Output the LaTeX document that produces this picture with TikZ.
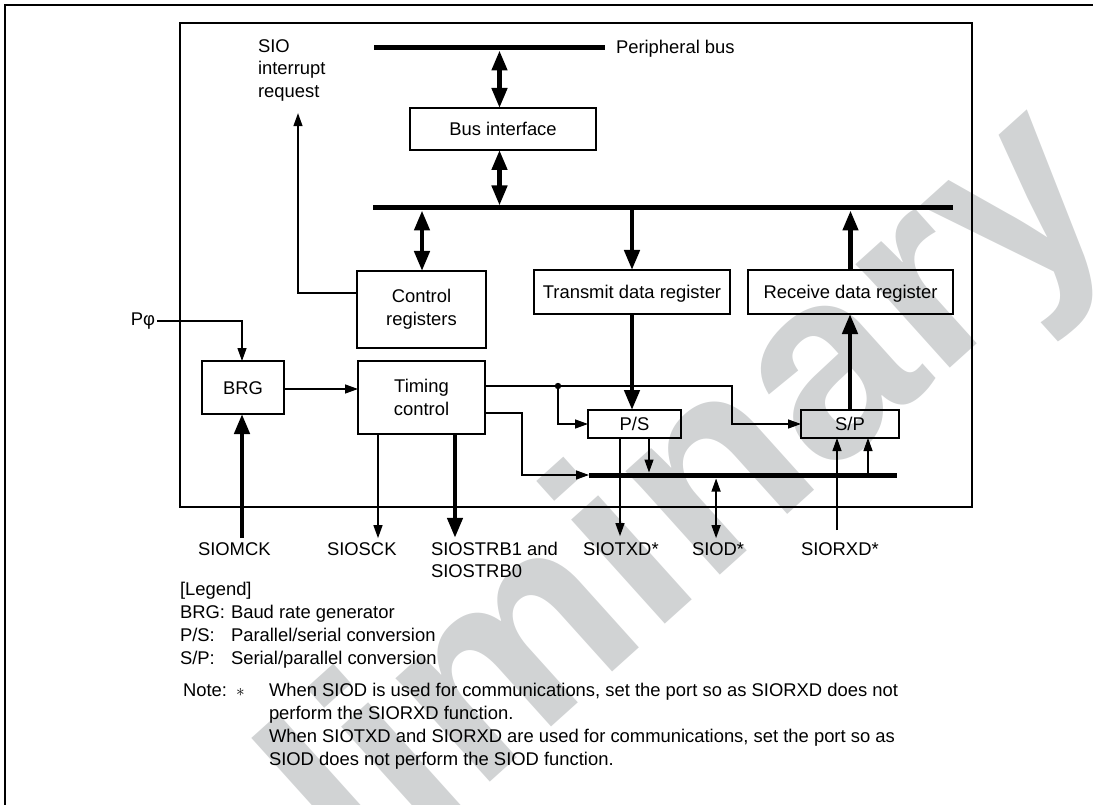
\documentclass[tikz,border=0pt]{standalone}
\usepackage{fontspec}
\setmainfont{Liberation Sans}
\usetikzlibrary{arrows.meta,calc}
\definecolor{wm}{RGB}{209,211,212}
\newcommand\dgfont{\fontsize{18.4}{22.8}\selectfont}
\begin{document}
\begin{tikzpicture}[x=1pt,y=-1pt,
  every node/.style={inner sep=0pt,outer sep=0pt,font=\dgfont},
  blk/.style={draw,line width=2.6pt,align=center},
  one/.style={text height=13.2pt,text depth=0pt},
  wire/.style={line width=1.3pt},
  wa/.style={wire,-{Triangle[length=13pt,width=9pt]}},
  wdbl/.style={wire,{Triangle[length=13pt,width=9pt]}-{Triangle[length=13pt,width=9pt]}},
  fat/.style={line width=4.5pt},
  fa/.style={fat,-{Triangle[length=20pt,width=15pt]}},
  fdbl/.style={fat,{Triangle[length=20pt,width=15pt]}-{Triangle[length=20pt,width=15pt]}},
  bus/.style={line width=5pt}]
\useasboundingbox (0,0) rectangle (1093,805);
% watermark
\node[rotate=42,text=wm,font=\fontsize{265}{265}\selectfont\bfseries] (wmk) at (540,645) {Preliminary};
% outer frame (cut off at right and bottom)
\draw[line width=2pt] (5,805) -- (5,5) -- (1093,5);
% chip frame
\node[draw,line width=2.6pt,minimum width=792pt,minimum height=484pt] (chip) at (576,265) {};
% buses
\coordinate (pbusL) at (374,48); \coordinate (pbusR) at (605,48);
\coordinate (ibusL) at (373,208); \coordinate (ibusR) at (953,208);
\coordinate (lbusL) at (589,475); \coordinate (lbusR) at (897,475);
\draw[bus] (pbusL) -- (pbusR);
\draw[bus] (ibusL) -- (ibusR);
\draw[bus] (lbusL) -- (lbusR);
% blocks
\node[blk,one,minimum width=186pt,minimum height=42pt] (bif) at (503,129) {Bus interface};
\node[blk,minimum width=129pt,minimum height=77pt] (ctrl) at (421.5,309.5) {Control\\registers};
\node[blk,one,minimum width=196pt,minimum height=44pt] (tdr) at (632,292) {Transmit data register};
\node[blk,one,minimum width=205pt,minimum height=44pt] (rdr) at (850.5,292) {Receive data register};
\node[blk,one,minimum width=82pt,minimum height=53pt] (brg) at (243,387.5) {BRG};
\node[blk,minimum width=127pt,minimum height=73pt] (tim) at (421.5,397.5) {Timing\\control};
\node[blk,one,minimum width=93pt,minimum height=28pt] (ps) at (634.5,424) {P/S};
\node[blk,one,minimum width=98pt,minimum height=28pt] (sp) at (850,424) {S/P};
% labels
\node[anchor=west] (pbuslbl) at (616,49) {Peripheral bus};
\node[anchor=north west,align=left,font=\fontsize{18.4}{22.5}\selectfont] (irq) at (258,39.5) {SIO\\interrupt\\request};
\node[anchor=east] (pphi) at (155,321) {Pφ};
\node[anchor=base west] (mck) at (198,555) {SIOMCK};
\node[anchor=base west] (sck) at (327,555) {SIOSCK};
\node[anchor=north west,align=left] (strb) at (431,541.8) {SIOSTRB1 and\\SIOSTRB0};
\node[anchor=base west] (txd) at (583,555) {SIOTXD*};
\node[anchor=base west] (siod) at (692,555) {SIOD*};
\node[anchor=base west] (rxd) at (801,555) {SIORXD*};
% legend
\node[anchor=base west] (lg0) at (180,595) {[Legend]};
\node[anchor=base west] (lg1a) at (180,618) {BRG:};
\node[anchor=base west] (lg1b) at (231,618) {Baud rate generator};
\node[anchor=base west] (lg2a) at (180,641) {P/S:};
\node[anchor=base west] (lg2b) at (231,641) {Parallel/serial conversion};
\node[anchor=base west] (lg3a) at (180,664) {S/P:};
\node[anchor=base west] (lg3b) at (231,664) {Serial/parallel conversion};
\node[anchor=base west] (note) at (183,696) {Note:};
\node[anchor=base west] (ast) at (236,696) {$\ast$};
\node[anchor=north west,align=left,font=\fontsize{18.4}{23}\selectfont] (notetxt) at (269,682.8)
  {When SIOD is used for communications, set the port so as SIORXD does not\\
   perform the SIORXD function.\\
   When SIOTXD and SIORXD are used for communications, set the port so as\\
   SIOD does not perform the SIOD function.};
% bus interface connections
\draw[fdbl] ($(bif.north |- pbusL)+(-3.5,2.5)$) -- ($(bif.north)+(-3.5,0)$);
\draw[fdbl] ($(bif.south)+(-3.5,0)$) -- ($(bif.south |- ibusL)+(-3.5,-2.5)$);
\draw[fdbl] ($(ctrl.north |- ibusL)+(0.5,2.5)$) -- ($(ctrl.north)+(0.5,0)$);
\draw[fa] (tdr.north |- ibusL) -- (tdr.north);
\draw[fa] (rdr.north) -- ($(rdr.north |- ibusL)+(0,2.5)$);
\draw[fa] (tdr.south) -- (tdr.south |- ps.north);
\draw[fa] (sp.north) -- (sp.north |- rdr.south);
% interrupt request
\draw[wa] ($(ctrl.west)+(0,-16.5)$) -| ($(irq.south west)+(40,12)$);
% clock
\draw[wa] ([xshift=2pt]pphi.east) -| ($(brg.north)+(-1,0)$);
\draw[wa] ($(brg.east)+(0,1.5)$) -- ($(brg.east -| tim.west)+(0,1.5)$);
% timing outputs
\coordinate (dot) at (558,386);
\coordinate (jog) at (732,386);
\draw[wire] ($(tim.east)+(0,-11.5)$) -- (dot);
\fill (dot) circle (3.2pt);
\draw[wa] (dot) -- (jog) |- (sp.west);
\draw[wa] (dot) |- (ps.west);
\coordinate (jog2) at (522,475);
\draw[wa] ($(tim.east)+(0,15.5)$) -| (jog2) -- (lbusL);
% serial side
\draw[wa] ($(ps.south)+(14.5,0)$) -- ($(ps.south |- lbusL)+(14.5,-2.5)$);
\draw[wa] ($(sp.south |- lbusL)+(18,-2.5)$) -- ($(sp.south)+(18,0)$);
\draw[wa] ($(ps.south)+(-14.5,0)$) -- ($(ps.south |- txd.north)+(-14.5,-6)$);
\draw[wdbl] ($(siod.north)+(-2,-4)$) -- ($(siod.north |- lbusL)+(-2,3.5)$);
\draw[wa] ($(sp.south |- rxd.north)+(-13,-12)$) -- ($(sp.south)+(-13,0)$);
% external pins
\draw[wa] ($(tim.south)+(-43.5,0)$) -- ($(tim.south |- sck.north)+(-43.5,-4)$);
\draw[fa] ($(tim.south)+(33.5,0)$) -- ($(tim.south |- strb.north)+(33.5,-4)$);
\draw[fa] ($(brg.south |- mck.north)+(-1,-4)$) -- ($(brg.south)+(-1,0)$);
\end{tikzpicture}
\end{document}
